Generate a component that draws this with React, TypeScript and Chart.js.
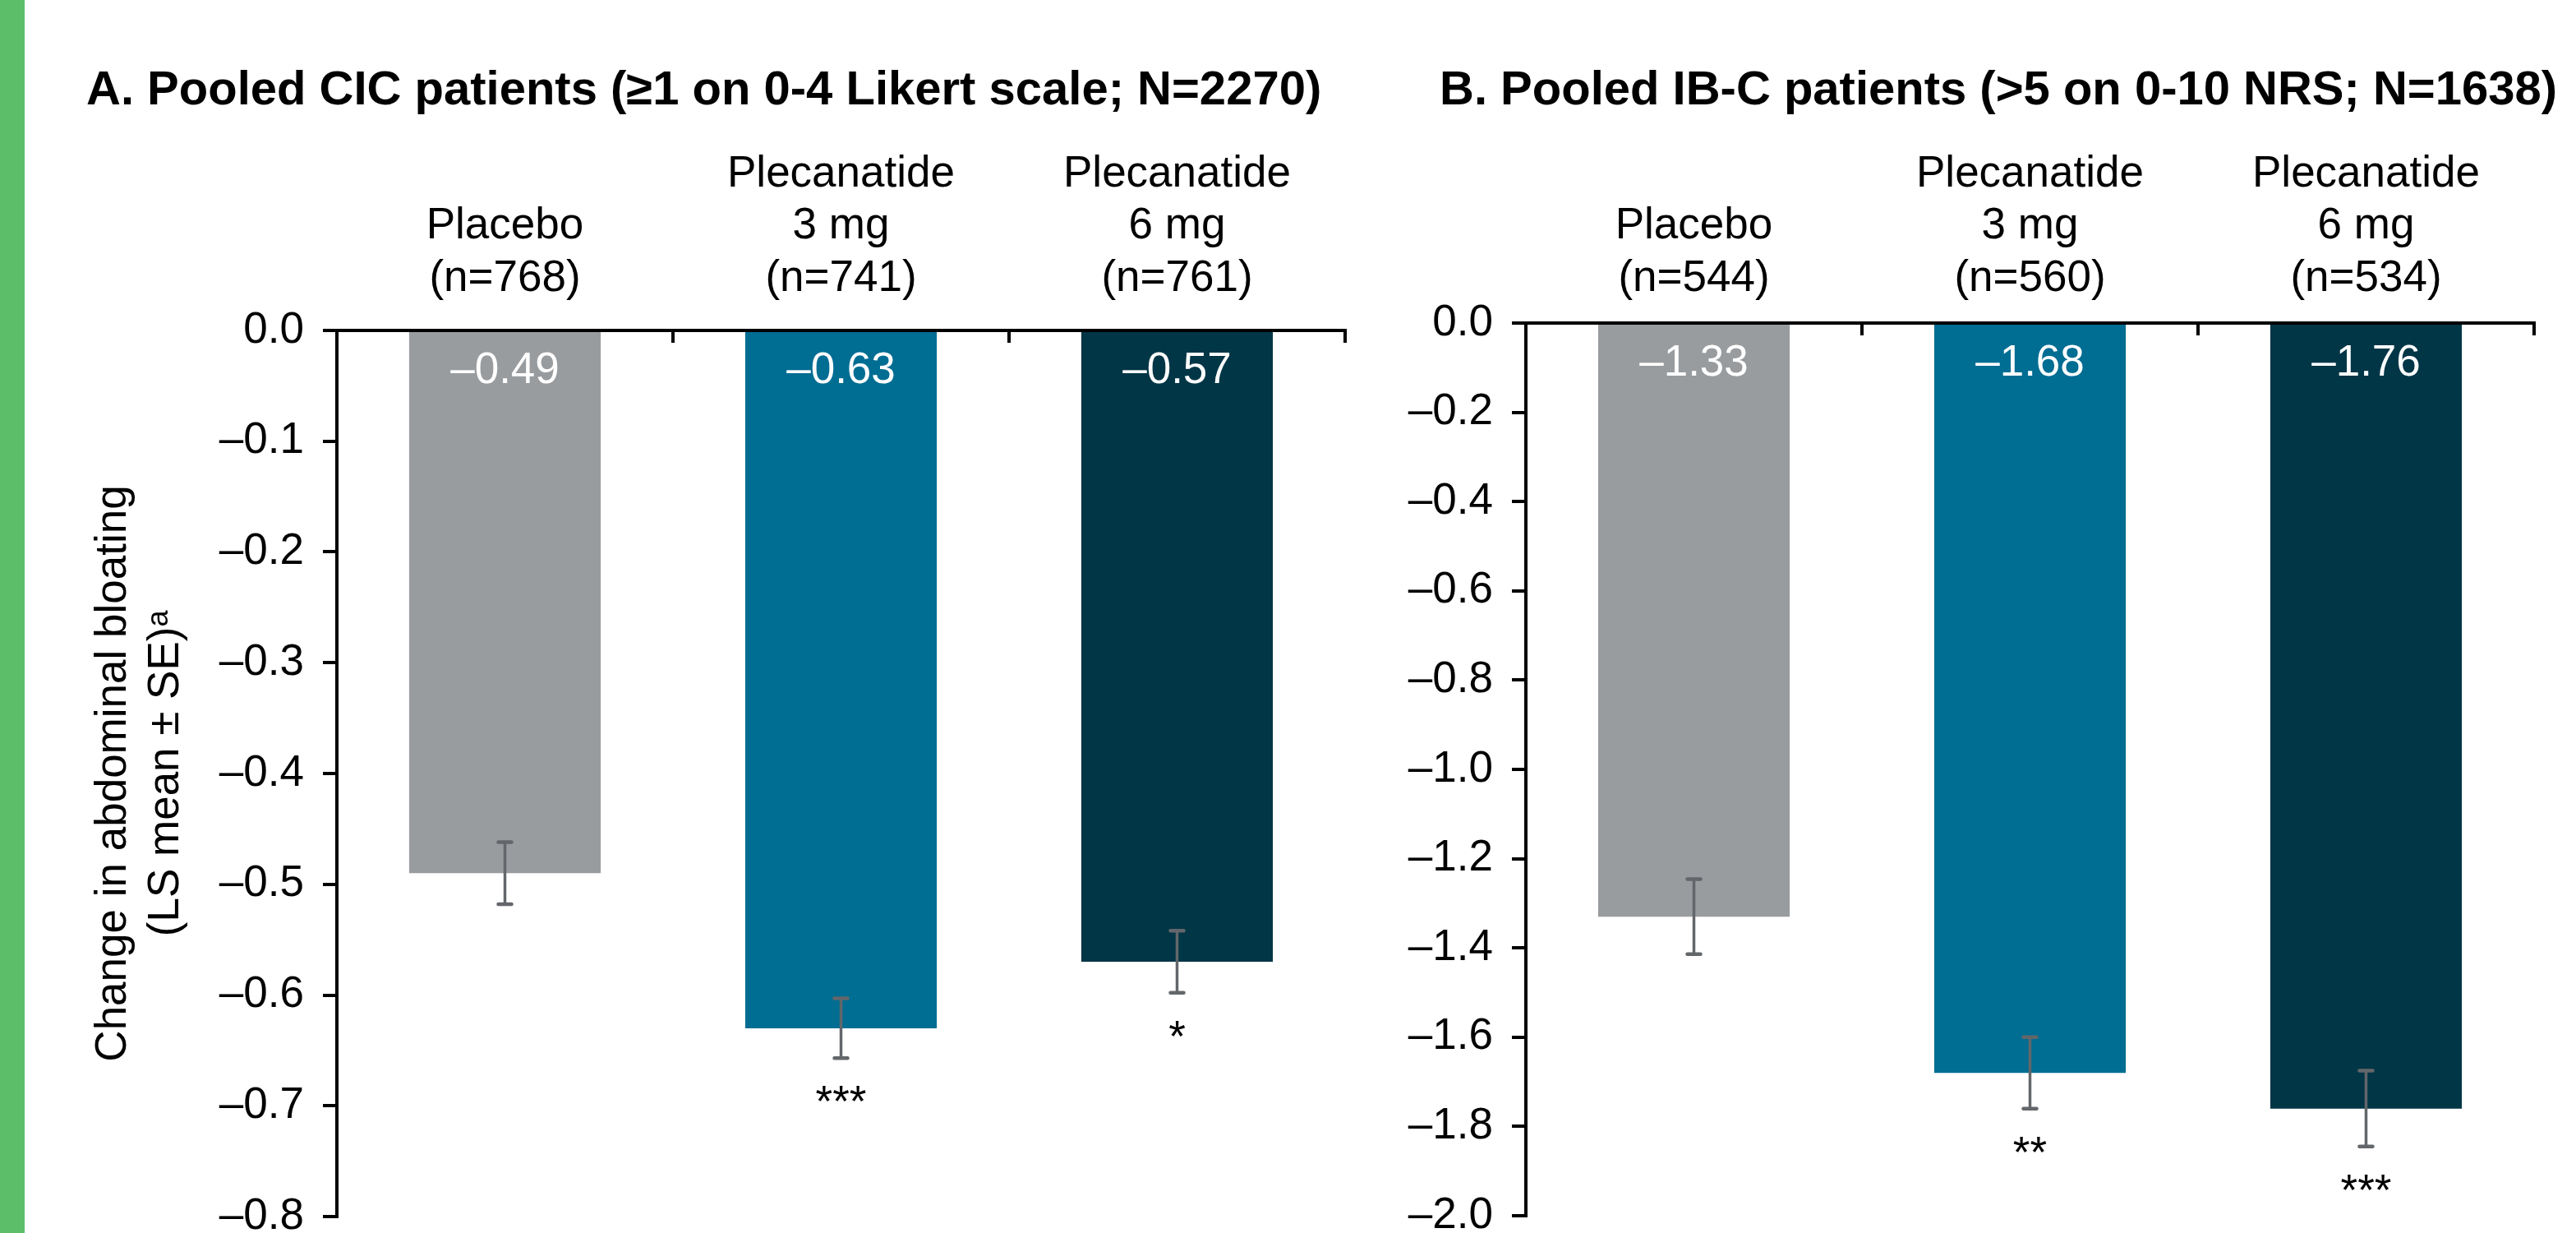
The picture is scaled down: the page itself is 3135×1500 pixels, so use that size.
import React, { useEffect, useRef } from 'react';
import { Chart, registerables } from 'chart.js';

Chart.register(...registerables);

const FONT = '"Liberation Sans", Arial, Helvetica, "DejaVu Sans", sans-serif';

// ---------------- data ----------------
const treatmentLines: string[][] = [['Placebo'], ['Plecanatide', '3 mg'], ['Plecanatide', '6 mg']];
const barColors = ['#999C9F', '#006D93', '#003646'];

const titleA = 'A. Pooled CIC patients (\u22651 on 0-4 Likert scale; N=2270)';
const nA = [768, 741, 761];
const meansA = [-0.49, -0.63, -0.57];
const seA = [0.028, 0.027, 0.028];
const starsA = ['', '***', '*'];
const yMinA = -0.8;
const yStepA = 0.1;

const titleB = 'B. Pooled IB-C patients (>5 on 0-10 NRS; N=1638)';
const nB = [544, 560, 534];
const meansB = [-1.33, -1.68, -1.76];
const seB = [0.084, 0.08, 0.085];
const starsB = ['', '**', '***'];
const yMinB = -2.0;
const yStepB = 0.2;

const yAxisTitleLines = ['Change in abdominal bloating', '(LS mean \u00b1 SE)\u1d43'];

// ---------------- helpers ----------------
const fmt = (v: number, d: number) =>
  (Math.abs(v) < 1e-9 ? '' : '\u2013') + Math.abs(v).toFixed(d);

const titlePlugin = {
  id: 'panelTitle',
  afterDraw(chart: any, _args: any, opts: any) {
    const { ctx } = chart;
    ctx.save();
    ctx.font = `bold 58px ${FONT}`;
    ctx.fillStyle = '#000000';
    ctx.textAlign = 'left';
    ctx.textBaseline = 'alphabetic';
    ctx.fillText(opts.text, opts.x, opts.y);
    ctx.restore();
  },
};

const overlayPlugin = {
  id: 'overlay',
  afterDatasetsDraw(chart: any, _args: any, opts: any) {
    const { ctx, chartArea } = chart;
    const xs = chart.scales.x;
    const ys = chart.scales.y;
    const y0 = ys.getPixelForValue(0);
    const meta = chart.getDatasetMeta(0);
    ctx.save();
    meta.data.forEach((bar: any, i: number) => {
      const m = opts.means[i];
      const s = opts.se[i];
      const yt = ys.getPixelForValue(m + s);
      const yb = ys.getPixelForValue(m - s);
      ctx.strokeStyle = '#63666A';
      ctx.lineWidth = 3.5;
      ctx.lineCap = 'butt';
      ctx.beginPath();
      ctx.moveTo(bar.x, yt);
      ctx.lineTo(bar.x, yb);
      ctx.stroke();
      ctx.lineWidth = 4.5;
      ctx.lineCap = 'round';
      ctx.beginPath();
      ctx.moveTo(bar.x - 8, yt);
      ctx.lineTo(bar.x + 8, yt);
      ctx.moveTo(bar.x - 8, yb);
      ctx.lineTo(bar.x + 8, yb);
      ctx.stroke();

      ctx.font = `53px ${FONT}`;
      ctx.textAlign = 'center';
      ctx.textBaseline = 'alphabetic';
      ctx.fillStyle = '#FFFFFF';
      ctx.fillText(fmt(m, 2), bar.x, y0 + 64);
      if (opts.stars[i]) {
        ctx.fillStyle = '#000000';
        ctx.fillText(opts.stars[i], bar.x, yb + 71);
      }
    });

    ctx.strokeStyle = '#000000';
    ctx.lineWidth = 4;
    ctx.lineCap = 'butt';
    ctx.lineJoin = 'miter';
    ctx.beginPath();
    ctx.moveTo(chartArea.left, y0);
    ctx.lineTo(chartArea.right, y0);
    ctx.lineTo(chartArea.right, y0 + 15);
    const half = (xs.getPixelForValue(1) - xs.getPixelForValue(0)) / 2;
    for (let i = 0; i < meta.data.length - 1; i++) {
      const bx = xs.getPixelForValue(i) + half;
      ctx.moveTo(bx, y0);
      ctx.lineTo(bx, y0 + 15);
    }
    ctx.stroke();
    ctx.restore();
  },
};

type PanelProps = {
  left: number;
  width: number;
  padLeft: number;
  padBottom: number;
  yAxisWidth: number;
  yTitlePad: number;
  rightWidth: number;
  xAxisHeight: number;
  xPad: number;
  titleX: number;
  title: string;
  ns: number[];
  means: number[];
  se: number[];
  stars: string[];
  yMin: number;
  yStep: number;
  showYTitle: boolean;
};

function Panel(p: PanelProps) {
  const ref = useRef<HTMLCanvasElement | null>(null);
  useEffect(() => {
    if (!ref.current) return;
    const labels = treatmentLines.map((lines, i) => [...lines, `(n=${p.ns[i]})`]);
    const chart = new Chart(ref.current, {
      type: 'bar',
      data: {
        labels,
        datasets: [
          {
            data: p.means,
            backgroundColor: barColors,
            borderWidth: 0,
            barPercentage: 0.57,
            categoryPercentage: 1,
            xAxisID: 'x',
            yAxisID: 'y',
          },
        ],
      },
      plugins: [overlayPlugin as any, titlePlugin as any],
      options: {
        responsive: false,
        maintainAspectRatio: false,
        animation: false,
        devicePixelRatio: 1,
        layout: { padding: { left: p.padLeft, right: 0, top: 154, bottom: p.padBottom } },
        plugins: {
          legend: { display: false },
          tooltip: { enabled: false },
          title: { display: false },
          panelTitle: { text: p.title, x: p.titleX, y: 127 },
          overlay: { means: p.means, se: p.se, stars: p.stars },
        } as any,
        scales: {
          x: {
            type: 'category',
            position: 'top',
            grid: { display: false, drawTicks: false },
            border: { display: false },
            ticks: {
              autoSkip: false,
              maxRotation: 0,
              minRotation: 0,
              padding: p.xPad,
              color: '#000000',
              font: { family: FONT, size: 53, lineHeight: 1.2 },
            },
            afterFit: (s: any) => {
              s.height = p.xAxisHeight;
              s.paddingLeft = 0;
              s.paddingRight = 0;
            },
          },
          y: {
            type: 'linear',
            position: 'left',
            min: p.yMin,
            max: 0,
            grid: {
              display: true,
              drawOnChartArea: false,
              drawTicks: true,
              tickLength: 17,
              lineWidth: 4,
              color: '#000000',
            },
            border: { display: true, width: 4, color: '#000000' },
            ticks: {
              stepSize: p.yStep,
              padding: 23,
              color: '#000000',
              font: { family: FONT, size: 53, lineHeight: 1.2 },
              callback: (v: any) => fmt(Number(v), 1),
            },
            title: {
              display: p.showYTitle,
              text: yAxisTitleLines,
              color: '#000000',
              font: { family: FONT, size: 53, lineHeight: 1.2 },
              padding: { top: p.yTitlePad, bottom: 0 },
            },
            afterFit: (s: any) => {
              s.width = p.yAxisWidth;
              s.paddingTop = 0;
              s.paddingBottom = 0;
            },
          },
          yR: {
            type: 'linear',
            position: 'right',
            display: true,
            grid: { display: false, drawTicks: false },
            border: { display: false },
            ticks: { display: false },
            afterFit: (s: any) => {
              s.width = p.rightWidth;
              s.paddingTop = 0;
              s.paddingBottom = 0;
            },
          },
        } as any,
      },
    });
    return () => chart.destroy();
  }, []);
  return (
    <div style={{ position: 'absolute', left: p.left, top: 0, width: p.width, height: 1500 }}>
      <canvas ref={ref} width={p.width} height={1500} style={{ display: 'block', width: p.width, height: 1500 }} />
    </div>
  );
}

export default function App() {
  return (
    <div
      style={{
        position: 'fixed',
        left: 0,
        top: 0,
        width: 3135,
        height: 1500,
        background: '#FFFFFF',
        overflow: 'hidden',
      }}
    >
      <div style={{ position: 'absolute', left: 0, top: 0, width: 30, height: 1500, background: '#5DBE6A' }} />
      <Panel
        left={30}
        width={1660}
        padLeft={0}
        padBottom={20}
        yAxisWidth={380}
        yTitlePad={77}
        rightWidth={53}
        xAxisHeight={248}
        xPad={31}
        titleX={75}
        title={titleA}
        ns={nA}
        means={meansA}
        se={seA}
        stars={starsA}
        yMin={yMinA}
        yStep={yStepA}
        showYTitle={true}
      />
      <Panel
        left={1690}
        width={1445}
        padLeft={0}
        padBottom={21}
        yAxisWidth={167}
        yTitlePad={0}
        rightWidth={51}
        xAxisHeight={239}
        xPad={22}
        titleX={62}
        title={titleB}
        ns={nB}
        means={meansB}
        se={seB}
        stars={starsB}
        yMin={yMinB}
        yStep={yStepB}
        showYTitle={false}
      />
    </div>
  );
}
